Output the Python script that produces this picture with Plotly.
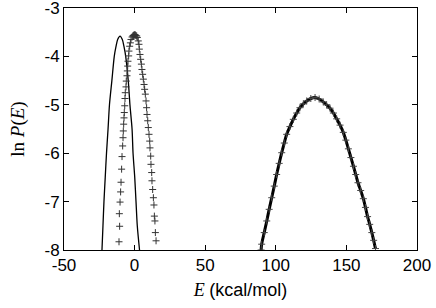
import plotly.graph_objects as go

# Solid curve (left)
line_E = [-23.1, -22.4, -21.7, -20.8, -19.9, -18.8, -17.8, -16.1, -14.4, -13.2, -12.0, -10.3,
          -8.7, -7.5, -6.3, -4.5, -3.3, -1.8, -1.1, 0.1, 1.0, 1.9, 3.5]
line_lnP = [-8.0, -7.5, -7.0, -6.5, -6.0, -5.5, -5.0, -4.5, -4.0, -3.8, -3.65, -3.58,
            -3.65, -3.8, -4.0, -4.5, -5.0, -5.5, -6.0, -6.5, -7.0, -7.5, -8.0]

# Plus-marker series near 0
peak1_E = [-11.05, -10.8, -10.6, -10.3, -9.9, -9.6, -9.2, -8.9, -8.45, -8.2, -8.0, -7.74, -7.5, -7.3,
           -7.0, -6.8, -6.6, -6.1, -5.9, -5.4, -5.15, -4.9, -4.7, -4.2, -4.0, -3.5, -3.0, -2.55,
           -1.8, -1.3, -0.9, -0.5, -0.2, 0.2, 0.5, 1.0, 1.5, 1.9, 2.6, 3.1, 3.35, 3.8, 4.3, 4.8, 5.2,
           5.7, 6.2, 6.7, 7.1, 7.6, 8.1, 8.5, 8.8, 9.3, 9.7, 10.2, 10.7, 10.9, 11.4, 11.6, 12.1,
           12.3, 12.8, 13.3, 13.7, 14.0, 14.4, 14.7, 15.2]
peak1_lnP = [-7.83, -7.25, -7.51, -7.01, -6.80, -6.60, -6.33, -6.07, -5.85, -5.68, -5.54, -5.40, -5.27, -5.16,
             -5.02, -4.87, -4.75, -4.63, -4.51, -4.40, -4.30, -4.20, -4.10, -3.99, -3.89, -3.79, -3.72, -3.65,
             -3.60, -3.58, -3.57, -3.56, -3.56, -3.55, -3.56, -3.57, -3.58, -3.61, -3.68, -3.75, -3.85, -3.96, -4.06, -4.16, -4.27,
             -4.37, -4.47, -4.58, -4.68, -4.78, -4.92, -5.06, -5.20, -5.33, -5.47, -5.61, -5.75, -5.89, -6.06, -6.23, -6.40,
             -6.57, -6.75, -6.92, -7.07, -7.30, -7.40, -7.64, -7.81]

# Plus-marker series near 128 (dense)
peak2_E = [89.6, 90.0, 91.8, 93.6, 95.3, 97.1, 98.9, 100.6, 102.4, 104.2, 106.0, 107.7, 110.0, 112.4, 114.8,
           117.1, 119.5, 121.9, 124.8, 127.8, 130.7, 133.6, 136.0, 138.4, 140.8, 143.1, 145.5, 147.8,
           149.6, 151.4, 153.2, 155.0, 156.6, 158.2, 160.1, 162.0, 163.5, 165.0, 166.5, 168.0, 169.3, 170.6]
peak2_lnP = [-8.0, -7.88, -7.64, -7.40, -7.16, -6.92, -6.68, -6.44, -6.21, -5.99, -5.79, -5.61, -5.45, -5.30, -5.17,
             -5.06, -4.98, -4.92, -4.87, -4.85, -4.88, -4.94, -5.00, -5.07, -5.17, -5.29, -5.42, -5.57,
             -5.73, -5.91, -6.09, -6.27, -6.44, -6.61, -6.77, -6.94, -7.12, -7.31, -7.47, -7.64, -7.80, -7.97]

x_tick_vals = [-50, 0, 50, 100, 150, 200]
x_tick_text = ["-50", "0", "50", "100", "150", "200"]
y_tick_vals = [-8, -7, -6, -5, -4, -3]
y_tick_text = ["-8", "-7", "-6", "-5", "-4", "-3"]

fig = go.Figure()
fig.add_trace(go.Scatter(x=line_E, y=line_lnP, mode="lines", line=dict(color="black", width=1.3, shape="spline", smoothing=0.8),
                         showlegend=False))
fig.add_trace(go.Scatter(x=peak1_E, y=peak1_lnP, mode="markers",
                         marker=dict(symbol="cross-thin", size=5, line=dict(color="#333", width=1)),
                         showlegend=False))
fig.add_trace(go.Scatter(x=peak2_E, y=peak2_lnP, mode="lines+markers",
                         line=dict(color="black", width=3, shape="spline"),
                         marker=dict(symbol="cross-thin", size=5, line=dict(color="#444", width=1)),
                         showlegend=False))

tickfont = dict(family="Liberation Sans, Arial, sans-serif", size=17, color="black")
fig.update_layout(
    width=436, height=308,
    margin=dict(l=64, r=19, t=8, b=58),
    paper_bgcolor="white", plot_bgcolor="white",
    xaxis=dict(range=[-50, 200], tickvals=x_tick_vals, ticktext=x_tick_text, automargin=False,
               ticklabeloverflow="allow",
               ticks="inside", ticklen=5, tickcolor="black", showline=True, linecolor="black", linewidth=1,
               mirror="ticks", showgrid=False, zeroline=False, tickfont=tickfont,
               title=dict(text="<i>E</i> <span style='font-family:Liberation Sans'>(kcal/mol)</span>",
                          font=dict(family="Liberation Serif, DejaVu Serif, serif", size=18, color="black"),
                          standoff=8)),
    yaxis=dict(range=[-8, -3], tickvals=y_tick_vals, ticktext=y_tick_text, automargin=False,
               ticklabeloverflow="allow",
               ticks="inside", ticklen=5, tickcolor="black", showline=True, linecolor="black", linewidth=1,
               mirror="ticks", showgrid=False, zeroline=False, tickfont=tickfont, ticklabelstandoff=0,
               title=dict(text="ln <i>P</i>(<i>E</i>)",
                          font=dict(family="Liberation Serif, DejaVu Serif, serif", size=19, color="black"),
                          standoff=14)),
)
fig.write_html("out.html", config={"displayModeBar": False},
               post_script="document.body.style.margin='0';document.body.style.padding='0';")
